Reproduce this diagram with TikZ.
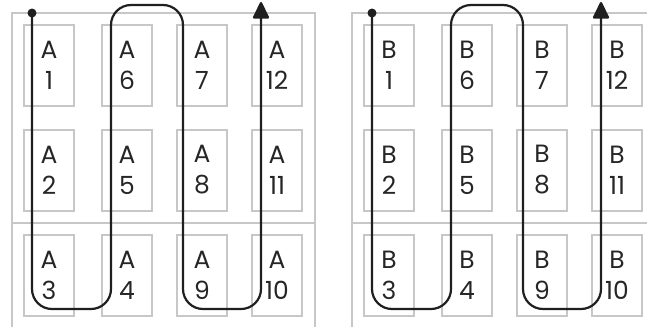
\documentclass[tikz,border=0pt]{standalone}
\usepackage{fontspec}
\setmainfont{Poppins}
\usetikzlibrary{arrows.meta}

\tikzset{
  binbox/.style={draw=black!22, line width=2pt, minimum width=50pt, minimum height=81pt, inner sep=0pt, align=center, text=black!85},
  rack/.style={draw=black!22, line width=2pt},
  route/.style={draw=black!88, line width=2.2pt, rounded corners=20pt},
  routetip/.style={-{Triangle[length=18pt, width=17pt, round=false]}},
}

\begin{document}
\begin{tikzpicture}[x=1pt, y=-1pt, font=\fontsize{25}{31}\selectfont]
    \useasboundingbox (0,0) rectangle (647,327);
    \clip (0,0) rectangle (647,327);

    % Rack A on left
    \draw[rack] (12,327) -- (12,13) -- (315,13) -- (315,327);
    \draw[rack] (12,223) -- (315,223);
    \foreach \x/\y/\n in {49/65.5/1, 49/170/2, 49/275.5/3, 127/275.5/4, 127/170/5, 127/65.5/6,
                          202/65.5/7, 202/170/8, 202/275.5/9, 277/275.5/10, 277/170/11, 277/65.5/12}
        \node[binbox] (a\n) at (\x,\y) {A\\\n};
    \coordinate (startA) at (32,13);
    \coordinate (endA) at (261,2);
    \draw[route, routetip] (startA) -- (32,309) -- (111,309) -- (111,5) -- (183,5) -- (183,309) -- (261,309) -- (endA);
    \fill[black!88] (startA) circle (4.5);

    % Rack B on right
    \begin{scope}[xshift=340pt]
        \draw[rack] (12,327) -- (12,13) -- (315,13) -- (315,327);
        \draw[rack] (12,223) -- (315,223);
        \foreach \x/\y/\n in {49/65.5/1, 49/170/2, 49/275.5/3, 127/275.5/4, 127/170/5, 127/65.5/6,
                              202/65.5/7, 202/170/8, 202/275.5/9, 277/275.5/10, 277/170/11, 277/65.5/12}
            \node[binbox] (b\n) at (\x,\y) {B\\\n};
        \coordinate (startB) at (32,13);
        \coordinate (endB) at (261,2);
        \draw[route, routetip] (startB) -- (32,309) -- (111,309) -- (111,5) -- (183,5) -- (183,309) -- (261,309) -- (endB);
        \fill[black!88] (startB) circle (4.5);
    \end{scope}
\end{tikzpicture}
\end{document}
